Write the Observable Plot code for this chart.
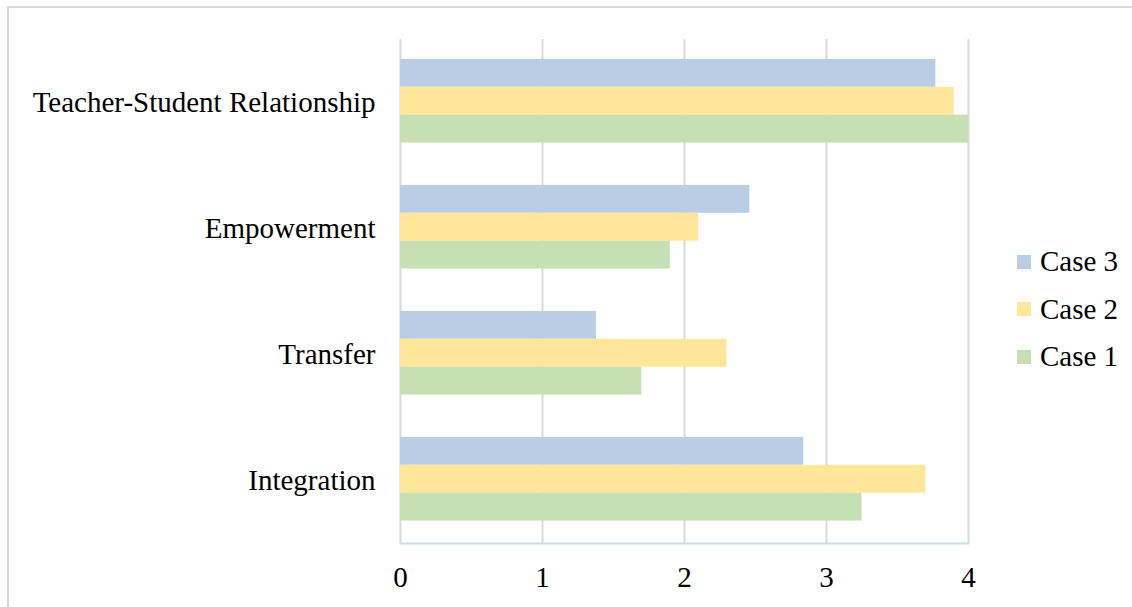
<!DOCTYPE html>
<html>
<head>
<meta charset="utf-8">
<script src="https://cdn.jsdelivr.net/npm/d3@7"></script>
<script src="https://cdn.jsdelivr.net/npm/@observablehq/plot@0.6"></script>
<style>
  html, body { margin: 0; padding: 0; background: #fff; width: 1132px; height: 607px; overflow: hidden; }
  #frame { position: absolute; left: 7px; top: 6px; width: 1200px; height: 700px; border: 2px solid #d9d9d9; box-sizing: border-box; }
  #chart { position: absolute; left: 0; top: 0; }
  #legend { position: absolute; left: 1017px; top: 238px; font-family: "Liberation Serif", serif; font-size: 29px; color: #000; }
  #legend .item { display: flex; align-items: center; height: 47.5px; }
  #legend .sw { width: 14px; height: 14px; margin-right: 9px; }
</style>
</head>
<body>
<div id="frame"></div>
<div id="chart"></div>
<div id="legend"></div>
<script>
const categories = ["Teacher-Student Relationship", "Empowerment", "Transfer", "Integration"];
const series = ["Case 3", "Case 2", "Case 1"];
const colors = ["#b9cde5", "#ffe699", "#c6e0b4"];
const case3 = [3.77, 2.46, 1.38, 2.84];
const case2 = [3.90, 2.10, 2.30, 3.70];
const case1 = [4.00, 1.90, 1.70, 3.25];
const xTicks = [0, 1, 2, 3, 4];

const seriesValues = [case3, case2, case1];
const data = [];
categories.forEach((c, i) => {
  series.forEach((s, j) => data.push({category: c, series: s, value: seriesValues[j][i]}));
});

const plot = Plot.plot({
  width: 1000,
  height: 607,
  marginLeft: 400,
  marginRight: 32,
  marginTop: 38,
  marginBottom: 63,
  style: {fontFamily: "Liberation Serif, serif", fontSize: "29px", color: "#000", background: "transparent", overflow: "visible"},
  facet: {data, y: "category"},
  fy: {domain: categories, padding: 0, label: null, tickSize: 0, tickPadding: 25, axis: "left"},
  y: {domain: series, paddingInner: 0, paddingOuter: 0.76, align: 0.47, round: false, axis: null},
  x: {domain: [0, 4], ticks: xTicks, tickSize: 0, tickPadding: 23, label: null, line: true, tickFormat: d => String(d)},
  color: {domain: series, range: colors},
  marks: [
    Plot.ruleX(xTicks, {stroke: "#d9d9d9", strokeWidth: 2}),
    Plot.barX(data, {x: "value", y: "series", fill: "series"}),
  ]
});
d3.select(plot).selectAll('g[aria-label="frame"] line, g[aria-label="frame"] rect')
  .attr("stroke", "#cfdbeb").attr("stroke-width", 2);
document.getElementById("chart").appendChild(plot);

const legend = document.getElementById("legend");
series.forEach((s, j) => {
  const item = document.createElement("div");
  item.className = "item";
  const sw = document.createElement("span");
  sw.className = "sw";
  sw.style.background = colors[j];
  const t = document.createElement("span");
  t.textContent = s;
  item.appendChild(sw);
  item.appendChild(t);
  legend.appendChild(item);
});
</script>
</body>
</html>
